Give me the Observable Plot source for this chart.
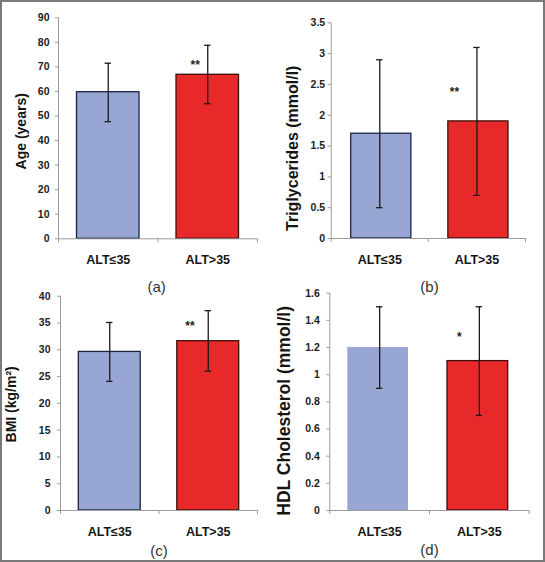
<!DOCTYPE html>
<html><head><meta charset="utf-8">
<script src="https://cdn.jsdelivr.net/npm/d3@7"></script>
<script src="https://cdn.jsdelivr.net/npm/@observablehq/plot@0.6"></script>
<style>
body{margin:0;background:#fff;}
#wrap{position:relative;width:545px;height:562px;background:#fff;overflow:hidden;font-family:"Liberation Sans",Arial,sans-serif;}
.panel{position:absolute;}
.letter{position:absolute;width:40px;text-align:center;font-size:15px;line-height:15px;color:#333;font-family:"Liberation Sans",Arial,sans-serif;}
#border{position:absolute;left:0;top:0;width:545px;height:562px;box-sizing:border-box;border:2px solid #7a7a7a;pointer-events:none;}
</style></head><body><div id="wrap"></div>
<script>
// ---- data ----
const categories = ["ALT≤35", "ALT>35"];
const ageMean = [59.7, 66.8], ageLow = [47.7, 55.0], ageHigh = [71.5, 78.8];
const trigMean = [1.7, 1.9], trigLow = [0.5, 0.7], trigHigh = [2.9, 3.1];
const bmiMean = [29.6, 31.6], bmiLow = [24.1, 26.0], bmiHigh = [35.1, 37.3];
const hdlMean = [1.2, 1.1], hdlLow = [0.9, 0.7], hdlHigh = [1.5, 1.5];
const ageTicks = [0, 10, 20, 30, 40, 50, 60, 70, 80, 90];
const trigTicks = [0, 0.5, 1, 1.5, 2, 2.5, 3, 3.5];
const bmiTicks = [0, 5, 10, 15, 20, 25, 30, 35, 40];
const hdlTicks = [0, 0.2, 0.4, 0.6, 0.8, 1, 1.2, 1.4, 1.6];
const ageSig = "**", ageSigY = 70.9;
const trigSig = "**", trigSigY = 2.38;
const bmiSig = "**", bmiSigY = 34.4;
const hdlSig = "*", hdlSigY = 1.28;
const titles = ["Age (years)", "Triglycerides (mmol/l)", "BMI (kg/m²)", "HDL Cholesterol (mmol/l)"];
const letters = ["(a)", "(b)", "(c)", "(d)"];

const wrap = document.getElementById("wrap");
const FONT = "'Liberation Sans', Arial, sans-serif";

function panel(o) {
  const rows = categories.map((c, i) => ({cat: c, i, mean: o.means[i], lo: o.lows[i], hi: o.highs[i]}));
  const step = (o.width - o.ml - o.mr) / 2;
  const cap = 3.2 / step;
  const chart = Plot.plot({
    width: o.width, height: o.height,
    marginTop: o.mt, marginBottom: o.mb, marginLeft: o.ml, marginRight: o.mr,
    x: {domain: [0, 2], axis: null},
    y: {domain: [0, o.yMax], axis: null},
    style: {fontFamily: FONT, fontSize: "10px", background: "transparent", overflow: "visible"},
    marks: [
      Plot.rectY(rows.filter(d => d.i === 0), {x1: d => d.i, x2: d => d.i + 1, y1: 0, y2: "mean",
        fill: "#98a6d4", stroke: o.blueStroke ? "#1c2342" : "none", strokeWidth: 1.3, insetLeft: o.inL, insetRight: o.inR}),
      Plot.rectY(rows.filter(d => d.i === 1), {x1: d => d.i, x2: d => d.i + 1, y1: 0, y2: "mean",
        fill: "#e8292a", stroke: "#3a0d0d", strokeWidth: 1.3, insetLeft: o.inL, insetRight: o.inR}),
      Plot.ruleX([0], {stroke: "#9a9a9a", strokeWidth: 1}),
      Plot.ruleY([0], {stroke: "#9a9a9a", strokeWidth: 1}),
      Plot.axisY(o.ticks, {tickSize: 3, tickPadding: o.tickPad, tickFormat: d => String(d), fontWeight: "bold", fontSize: 10.5,
        stroke: "#9a9a9a", fill: "#222", label: null}),
      Plot.axisX([0, 1, 2], {tickSize: 4, tickFormat: () => "", stroke: "#9a9a9a", label: null}),
      Plot.text(rows, {x: d => d.i + 0.5, y: 0, text: "cat", dy: 21, fontWeight: "bold", fontSize: 12.5, fill: "#151515"}),
      Plot.ruleX(rows, {x: d => d.i + 0.5, y1: "lo", y2: "hi", stroke: "#1a1a1a", strokeWidth: 1.3}),
      Plot.ruleY(rows, {x1: d => d.i + 0.5 - cap, x2: d => d.i + 0.5 + cap, y: "lo", stroke: "#1a1a1a", strokeWidth: 1.3}),
      Plot.ruleY(rows, {x1: d => d.i + 0.5 - cap, x2: d => d.i + 0.5 + cap, y: "hi", stroke: "#1a1a1a", strokeWidth: 1.3}),
      Plot.text([o.sig], {x: 1.5, y: o.sigY, text: d => d, dx: o.sigDx, fontWeight: "bold", fontSize: 12, fill: "#222"}),
      Plot.text([o.title], {frameAnchor: "left", rotate: -90, textAnchor: "middle", lineAnchor: "middle",
        dx: o.titleDx, dy: o.titleDy, fontWeight: "bold", fontSize: o.titleSize, fill: "#151515"})
    ]
  });
  chart.classList.add("panel");
  chart.style.left = o.left + "px";
  chart.style.top = o.top + "px";
  wrap.appendChild(chart);
}

panel({means: ageMean, lows: ageLow, highs: ageHigh, ticks: ageTicks, yMax: 90, title: titles[0],
  sig: ageSig, sigY: ageSigY, sigDx: -12.5,
  left: 0, top: 0, width: 272, height: 280, mt: 17.3, mb: 41.7, ml: 58, mr: 15,
  inL: 18.5, inR: 18.5, tickPad: 6, titleDx: -37, titleDy: 3, titleSize: 14, blueStroke: true});

panel({means: trigMean, lows: trigLow, highs: trigHigh, ticks: trigTicks, yMax: 3.5, title: titles[1],
  sig: trigSig, sigY: trigSigY, sigDx: -22.5,
  left: 272, top: 0, width: 273, height: 280, mt: 22.3, mb: 42, ml: 58.7, mr: 20,
  inL: 20, inR: 17, tickPad: 3, titleDx: -38.7, titleDy: 17.6, titleSize: 16, blueStroke: true});

panel({means: bmiMean, lows: bmiLow, highs: bmiHigh, ticks: bmiTicks, yMax: 40, title: titles[2],
  sig: bmiSig, sigY: bmiSigY, sigDx: -18.3,
  left: 0, top: 280, width: 272, height: 282, mt: 15.7, mb: 52, ml: 60, mr: 15,
  inL: 18.3, inR: 18.3, tickPad: 7, titleDx: -49, titleDy: 1, titleSize: 14, blueStroke: true});

panel({means: hdlMean, lows: hdlLow, highs: hdlHigh, ticks: hdlTicks, yMax: 1.6, title: titles[3],
  sig: hdlSig, sigY: hdlSigY, sigDx: -20,
  left: 272, top: 280, width: 273, height: 282, mt: 12.7, mb: 52, ml: 57.3, mr: 16.3,
  inL: 18, inR: 21, tickPad: 7, titleDx: -45.3, titleDy: 9, titleSize: 17.5, blueStroke: false});

const letterPos = [[156.7, 279.3], [429.5, 279.3], [159, 543.3], [429.5, 541.6]];
letters.forEach((t, k) => {
  const d = document.createElement("div");
  d.className = "letter";
  d.textContent = t;
  d.style.left = (letterPos[k][0] - 20) + "px";
  d.style.top = letterPos[k][1] + "px";
  wrap.appendChild(d);
});
const b = document.createElement("div");
b.id = "border";
wrap.appendChild(b);
</script></body></html>
